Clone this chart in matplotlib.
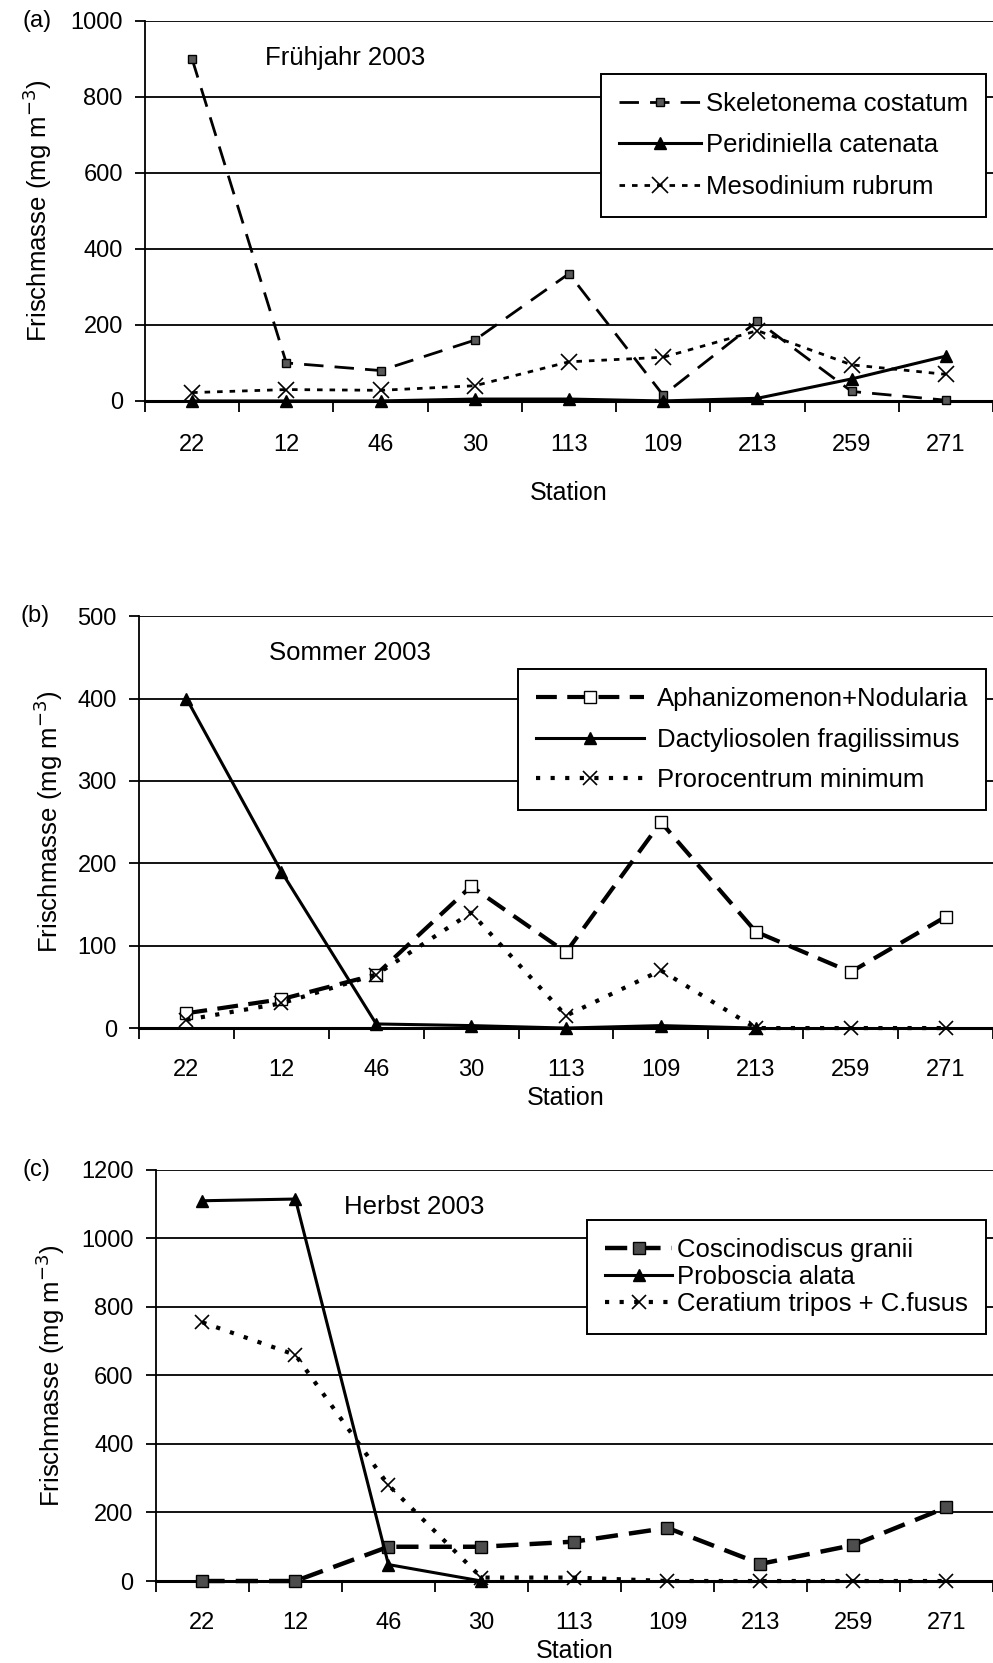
import numpy as np
import matplotlib
matplotlib.use('Agg')
import matplotlib.pyplot as plt
from matplotlib.ticker import FixedLocator

plt.rcParams['font.family'] = ['Liberation Sans', 'DejaVu Sans']

stations = ['22', '12', '46', '30', '113', '109', '213', '259', '271']

# (a) Frühjahr 2003
skeletonema = [900, 100, 80, 160, 335, 15, 210, 25, 2]
peridiniella = [0, 0, 0, 5, 5, 0, 7, 58, 118]
mesodinium = [22, 30, 28, 40, 103, 115, 185, 95, 70]

# (b) Sommer 2003
aphanizomenon = [18, 35, 65, 172, 92, 250, 117, 68, 135]
dactyliosolen = [400, 190, 5, 3, 0, 3, 0, None, None]
prorocentrum = [10, 30, 65, 140, 15, 70, 0, 0, 0]

# (c) Herbst 2003
coscinodiscus = [0, 0, 100, 100, 115, 155, 50, 105, 215]
proboscia = [1110, 1115, 48, 0, None, None, None, None, None]
ceratium = [755, 660, 280, 10, 10, 0, 0, 0, 0]


def arr(v):
    return np.array([np.nan if a is None else a for a in v], dtype=float)


def setup_axes(ax, ymax, ystep, label_pad, ylab_x, station_pad):
    n = len(stations)
    ax.set_xlim(-0.5, n - 0.5)
    ax.set_ylim(0, ymax)
    ax.set_yticks(np.arange(0, ymax + 1, ystep))
    ax.set_xticks(np.arange(n))
    ax.set_xticklabels(stations)
    ax.xaxis.set_minor_locator(FixedLocator(np.arange(n + 1) - 0.5))
    ax.tick_params(axis='x', which='major', length=0, pad=label_pad, labelsize=17)
    ax.tick_params(axis='x', which='minor', length=8, width=1.3, direction='out')
    ax.tick_params(axis='y', length=7, width=1.3, pad=9, labelsize=17)
    ax.grid(axis='y', color='black', lw=1.3)
    ax.set_axisbelow(True)
    for s in ['top', 'right']:
        ax.spines[s].set_visible(False)
    ax.spines['left'].set_linewidth(1.3)
    ax.spines['bottom'].set_linewidth(2.2)
    ax.set_xlabel('Station', fontsize=18, labelpad=station_pad)
    ax.set_ylabel('Frischmasse (mg m$^{-3}$)', fontsize=18.5)
    ax.yaxis.set_label_coords(ylab_x, 0.5)


def add_legend(ax, fig, y, spacing, hlen, hpad):
    leg = ax.legend(loc='upper right', bbox_to_anchor=(0.993, y), bbox_transform=fig.transFigure,
                    fontsize=18.5, frameon=True, fancybox=False, handlelength=hlen,
                    handletextpad=hpad, labelspacing=spacing, borderpad=0.7, borderaxespad=0)
    leg.get_frame().set_edgecolor('black')
    leg.get_frame().set_linewidth(1.4)
    leg.get_frame().set_alpha(1)


fig = plt.figure(figsize=(9.93, 16.63), dpi=100)
x = np.arange(len(stations))

# Panel a
ax1 = fig.add_axes([0.146, 0.7589, 0.854, 0.2285])
ax1.plot(x, arr(skeletonema), color='black', lw=2, ls=(0, (7, 4)), marker='s', ms=6,
         mfc='0.35', mec='black', label='Skeletonema costatum', clip_on=False, zorder=3)
ax1.plot(x, arr(peridiniella), color='black', lw=2.2, marker='^', ms=9, mfc='black',
         label='Peridiniella catenata', clip_on=False, zorder=3)
ax1.plot(x, arr(mesodinium), color='black', lw=2, ls=(0, (2, 2.5)), marker='x', ms=11, mew=1.2,
         label='Mesodinium rubrum', clip_on=False, zorder=3)
setup_axes(ax1, 1000, 200, 24, -0.107, 18)
add_legend(ax1, fig, 0.9555, 0.68, 3.2, 0.2)
ax1.text(0.141, 0.903, 'Frühjahr 2003', fontsize=18.5, transform=ax1.transAxes, va='center')
fig.text(0.023, 0.9874, '(a)', fontsize=17, va='center')

# Panel b
ax2 = fig.add_axes([0.140, 0.3818, 0.860, 0.2477])
ax2.plot(x, arr(aphanizomenon), color='black', lw=3, ls=(0, (5, 2.5)), marker='s', ms=8,
         mfc='white', mec='black', mew=1, label='Aphanizomenon+Nodularia', clip_on=False, zorder=3)
ax2.plot(x, arr(dactyliosolen), color='black', lw=2.2, marker='^', ms=9, mfc='black',
         label='Dactyliosolen fragilissimus', clip_on=False, zorder=3)
ax2.plot(x, arr(prorocentrum), color='black', lw=3, ls=(0, (1, 2.5)), marker='x', ms=10, mew=1.2,
         label='Prorocentrum minimum', clip_on=False, zorder=3)
setup_axes(ax2, 500, 100, 22, -0.087, 4)
add_legend(ax2, fig, 0.5977, 0.65, 4.2, 0.5)
ax2.text(0.152, 0.91, 'Sommer 2003', fontsize=18.5, transform=ax2.transAxes, va='center')
fig.text(0.021, 0.6296, '(b)', fontsize=17, va='center')

# Panel c
ax3 = fig.add_axes([0.157, 0.0493, 0.843, 0.2472])
ax3.plot(x, arr(coscinodiscus), color='black', lw=3.2, ls=(0, (5, 2.5)), marker='s', ms=8,
         mfc='0.3', mec='black', label='Coscinodiscus granii', clip_on=False, zorder=3)
ax3.plot(x, arr(proboscia), color='black', lw=2.2, marker='^', ms=9, mfc='black',
         label='Proboscia alata', clip_on=False, zorder=3)
ax3.plot(x, arr(ceratium), color='black', lw=3, ls=(0, (1, 2.5)), marker='x', ms=10, mew=1.2,
         label='Ceratium tripos + C.fusus', clip_on=False, zorder=3)
setup_axes(ax3, 1200, 200, 22, -0.106, 4)
add_legend(ax3, fig, 0.2664, 0.12, 2.6, 0.2)
ax3.text(0.225, 0.91, 'Herbst 2003', fontsize=18.5, transform=ax3.transAxes, va='center')
fig.text(0.023, 0.2965, '(c)', fontsize=17, va='center')

fig.savefig('out.png', dpi=100)
